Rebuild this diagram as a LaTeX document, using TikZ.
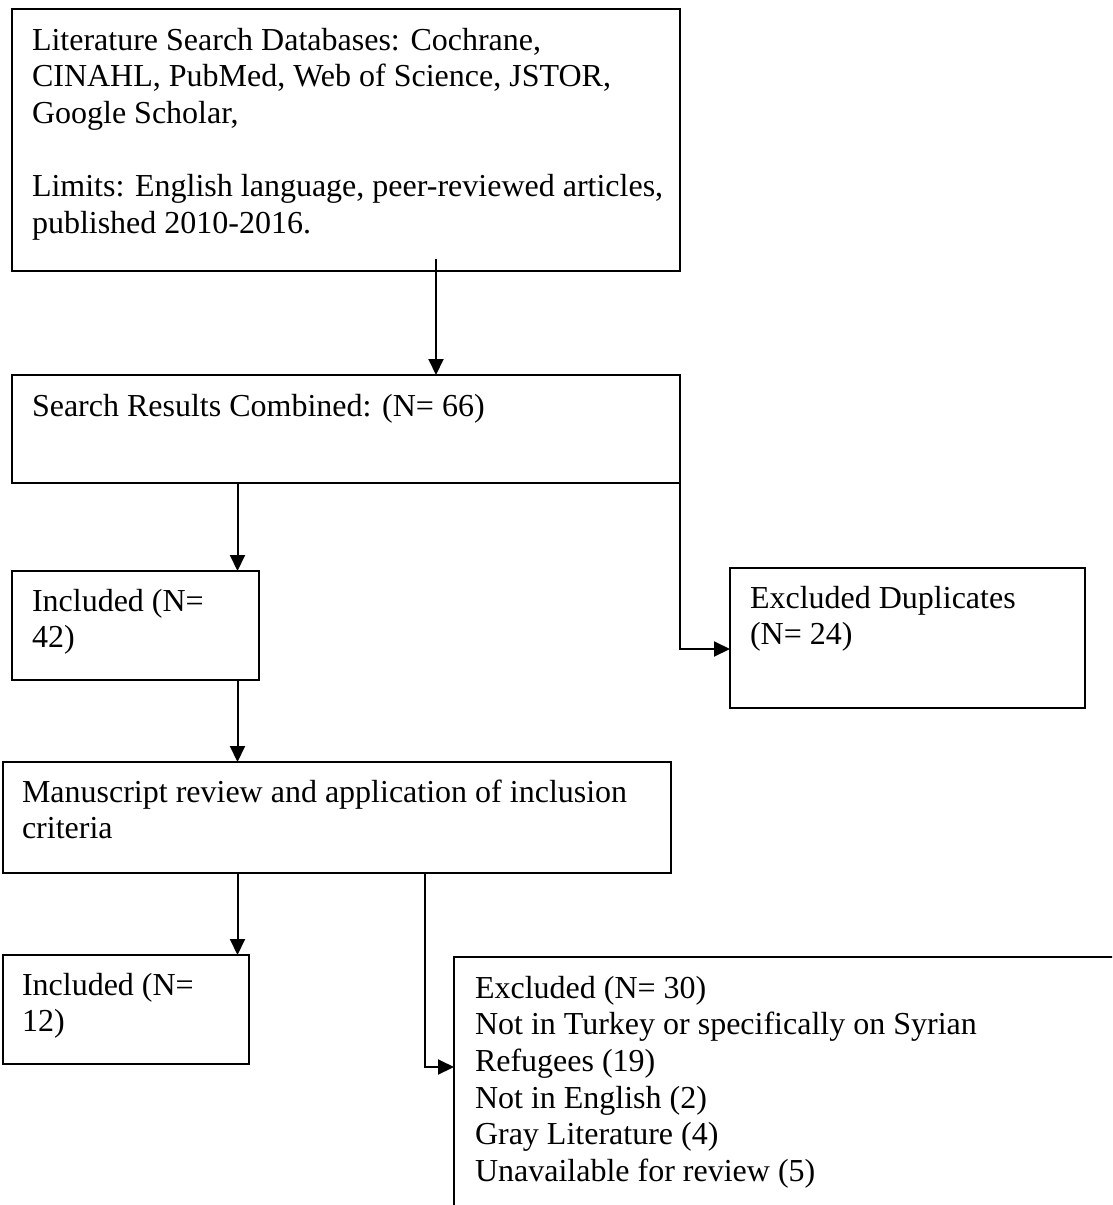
\documentclass[tikz,border=0pt]{standalone}
\usepackage{fontspec}
\setmainfont{Liberation Serif}
\usetikzlibrary{arrows.meta}
\newcommand\firststrut{\rule{0pt}{28pt}}
\begin{document}
\begin{tikzpicture}[x=1pt,y=-1pt,
  box/.style={draw, line width=2pt, rectangle, inner sep=0pt, outer sep=0pt, anchor=north west},
  txt/.style={anchor=north west, inner sep=0pt, outer sep=0pt, align=left, font=\fontsize{32}{36.7}\selectfont},
  arr/.style={line width=2pt, -{Triangle[width=15pt,length=16pt]}}]
\useasboundingbox (0,0) rectangle (1112,1205);

% boxes
\node[box, minimum width=668pt, minimum height=262pt] (b1) at (12,9) {};
\node[box, minimum width=668pt, minimum height=108pt] (b2) at (12,375) {};
\node[box, minimum width=247pt, minimum height=109pt] (b3) at (12,571) {};
\node[box, minimum width=355pt, minimum height=140pt] (b4) at (730,568) {};
\node[box, minimum width=668pt, minimum height=111pt] (b5) at (3,762) {};
\node[box, minimum width=246pt, minimum height=109pt] (b6) at (3,955) {};
\begin{scope}
\clip (0,0) rectangle (1112,1205);
\node[box, minimum width=700pt, minimum height=300pt] (b7) at (454,957) {};
\end{scope}

% texts
\node[txt] (t1) at (32,22) {\firststrut Literature Search Databases: Cochrane,\\ CINAHL, PubMed, Web of Science, JSTOR,\\ Google Scholar,\\ \mbox{}\\ Limits: English language, peer-reviewed articles,\\ published 2010-2016.};
\node[txt] (t2) at (32,388) {\firststrut Search Results Combined: (N= 66)};
\node[txt] (t3) at (32,583) {\firststrut Included (N=\\ 42)};
\node[txt] (t4) at (750,580) {\firststrut Excluded Duplicates\\ (N= 24)};
\node[txt] (t5) at (22,774) {\firststrut Manuscript review and application of inclusion\\ criteria};
\node[txt] (t6) at (22,967) {\firststrut Included (N=\\ 12)};
\node[txt] (t7) at (475,970) {\firststrut Excluded (N= 30)\\ Not in Turkey or specifically on Syrian\\ Refugees (19)\\ Not in English (2)\\ Gray Literature (4)\\ Unavailable for review (5)};

% connectors
\coordinate (xa) at (237.5,0);
\coordinate (c1) at (436,259);
\draw[arr] (c1) -- (c1 |- b2.north);
\draw[arr] (xa |- b2.south) -- (xa |- b3.north);
\coordinate (c2) at (632,483);
\coordinate (ya) at (0,649);
\draw[arr] (c2) -- (b2.south east) |- (b4.west |- ya);
\draw[arr] (xa |- b3.south) -- (xa |- b5.north);
\draw[arr] (xa |- b5.south) -- (xa |- b6.north);
\coordinate (c3) at (397,873);
\coordinate (xb) at (425,0);
\coordinate (yb) at (0,1067);
\draw[arr] (c3) -- (xb |- b5.south) |- (b7.west |- yb);
\end{tikzpicture}
\end{document}
